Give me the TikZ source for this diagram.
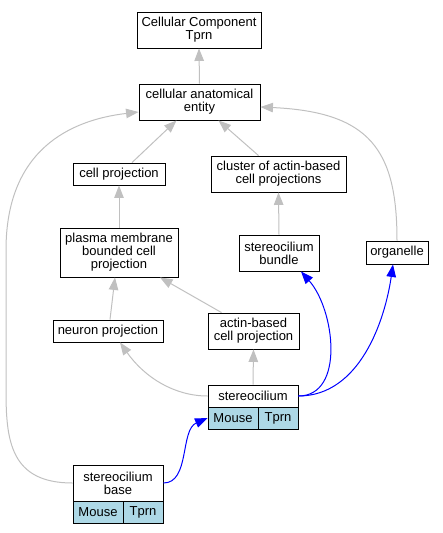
\documentclass[tikz,border=0pt]{standalone}
\usepackage{fontspec}
\setmainfont{Liberation Sans}
\usetikzlibrary{arrows.meta}
\definecolor{edgegray}{RGB}{192,192,192}
\definecolor{recblue}{RGB}{173,216,230}
\definecolor{linkblue}{RGB}{0,0,255}
\begin{document}
\begin{tikzpicture}[x=1pt,y=-1pt,
  box/.style={draw=black,line width=0.9pt,fill=white,inner sep=0pt,align=center,
    font=\fontsize{13}{13}\selectfont},
  cell/.style={box,fill=recblue},
  isa/.style={draw=edgegray,line width=1pt,-{Triangle[length=12.5pt,width=9.5pt]}},
  link/.style={draw=linkblue,line width=1pt,-{Triangle[length=12.5pt,width=9.5pt]}}]
\useasboundingbox (0,0) rectangle (443,533);
% nodes
\node[box,minimum width=124pt,minimum height=36pt] (cc) at (199,30) {Cellular Component\\Tprn};
\node[box,minimum width=121pt,minimum height=36pt] (cae) at (199.5,102) {cellular anatomical\\entity};
\node[box,minimum width=92pt,minimum height=22pt] (cp) at (119,174) {cell projection};
\node[box,minimum width=135pt,minimum height=36pt] (cl) at (278.5,174) {cluster of actin-based\\cell projections};
\node[box,minimum width=118pt,minimum height=49pt] (pm) at (119,252.5) {plasma membrane\\bounded cell\\projection};
\node[box,minimum width=80pt,minimum height=36pt] (bu) at (279,253) {stereocilium\\bundle};
\node[box,minimum width=62pt,minimum height=23pt] (og) at (397,252.5) {organelle};
\node[box,minimum width=110pt,minimum height=22pt] (np) at (108,331) {neuron projection};
\node[box,minimum width=91pt,minimum height=36pt] (ac) at (253.5,331) {actin-based\\cell projection};
% stereocilium record
\node[box,minimum width=90pt,minimum height=22pt] (st) at (253,396) {stereocilium};
\node[cell,minimum width=50pt,minimum height=22pt] (stm) at (233,418) {Mouse};
\node[cell,minimum width=40pt,minimum height=22pt] (stt) at (278,418) {Tprn};
% stereocilium base record
\node[box,minimum width=90pt,minimum height=36pt] (sb) at (118,483) {stereocilium\\base};
\node[cell,minimum width=50pt,minimum height=22pt] (sbm) at (98,512) {Mouse};
\node[cell,minimum width=40pt,minimum height=22pt] (sbt) at (143,512) {Tprn};
% gray is_a edges
\draw[isa] (cae.north) -- (cc.south);
\draw[isa] ([xshift=13pt]cp.north) -- ([xshift=-23pt]cae.south);
\draw[isa] ([xshift=-20pt]cl.north) -- ([xshift=19pt]cae.south);
\draw[isa] (og.north) .. controls (397,150) and (370,112) .. ([yshift=-5pt]cae.east);
\draw[isa] (sb.west) .. controls (10,483) and (6,440) .. (6,390) -- (6,250) .. controls (6,150) and (70,120) .. ([yshift=-10pt]cae.west);
\draw[isa] (pm.north) -- (cp.south);
\draw[isa] (bu.north) -- (cl.south);
\draw[isa] ([xshift=2pt]np.north) -- ([xshift=-4pt]pm.south);
\draw[isa] ([xshift=-32pt]ac.north) -- ([xshift=41pt]pm.south);
\draw[isa] (st.west) .. controls (175,396) and (145,378) .. ([xshift=12pt]np.south);
\draw[isa] (st.north) -- (ac.south);
% blue edges
\draw[link] (st.east) .. controls (345,396) and (335,310) .. ([xshift=22pt]bu.south);
\draw[link] (st.east) .. controls (360,396) and (385,320) .. ([xshift=-4pt]og.south);
\draw[link] (sb.east) .. controls (190,483) and (180,430) .. (stm.west);
\end{tikzpicture}
\end{document}
